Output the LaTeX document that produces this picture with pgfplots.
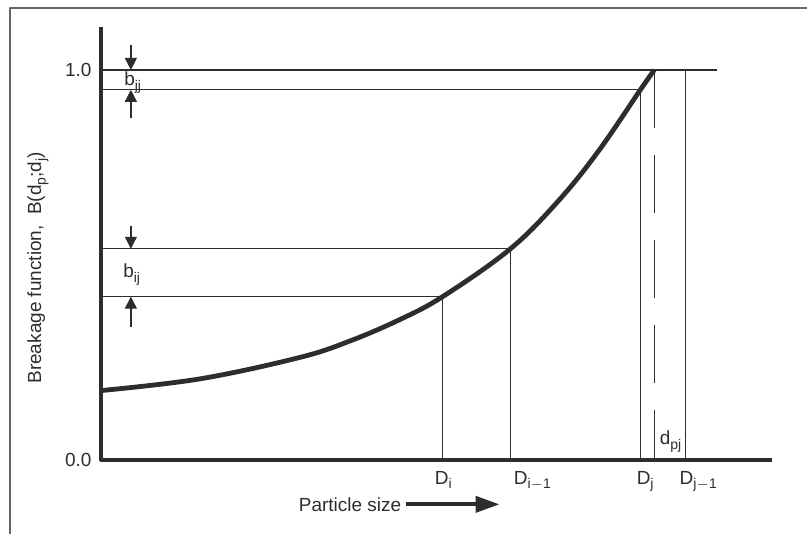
\documentclass[border=0pt]{standalone}
\usepackage{pgfplots}
\pgfplotsset{compat=1.18}
\usepackage{fontspec}
\setmainfont{Liberation Sans}
\usetikzlibrary{arrows.meta}
\definecolor{ink}{RGB}{45,45,45}
\newcommand{\sub}[1]{\raisebox{-0.45ex}{\fontsize{7}{8}\selectfont #1}}
\begin{document}
\fontsize{9.5}{11}\selectfont
\begin{tikzpicture}
\begin{axis}[
  scale only axis, width=404pt, height=267pt,
  xmin=-101, xmax=707, ymin=-0.18974, ymax=1.17949,
  axis lines=none, clip=false,
  every axis plot/.append style={ink, line join=round},
]
\path (rel axis cs:0,0) rectangle (rel axis cs:1,1);
% frame
\addplot[line width=0.8pt, color=gray!80!black] coordinates {(-91,-0.19) (-91,1.159) (707,1.159)};
% axis spines
\addplot[line width=2pt] coordinates {(0,1.110) (0,0) (672,0)};
% horizontal reference lines
\addplot[line width=0.65pt] coordinates {(0,1) (617,1)};
\addplot[line width=0.65pt] coordinates {(0,0.949) (540,0.949)};
\addplot[line width=0.65pt] coordinates {(0,0.541) (410,0.541)};
\addplot[line width=0.65pt] coordinates {(0,0.418) (342,0.418)};
% vertical lines
\addplot[line width=0.65pt] coordinates {(342,0) (342,0.418)};
\addplot[line width=0.65pt] coordinates {(410,0) (410,0.541)};
\addplot[line width=0.65pt] coordinates {(540,0) (540,0.949)};
\addplot[line width=0.65pt] coordinates {(585,0) (585,1)};
\addplot[line width=0.65pt, dash pattern=on 29pt off 13.5pt] coordinates {(554,1) (554,0)};
% breakage curve
\addplot[line width=2.4pt, smooth, tension=0.6] coordinates {
 (0,0.177) (99,0.207) (199,0.262) (250,0.305) (299,0.359) (342,0.418) (410,0.541)
 (459,0.667) (499,0.795) (540,0.949) (554,1.0)};
% dimension arrows
\draw[ink, line width=0.65pt, -{Triangle[length=6pt,width=6pt]}] (axis cs:30,1.064) -- (axis cs:30,1.0);
\draw[ink, line width=0.65pt, -{Triangle[length=6pt,width=6pt]}] (axis cs:30,0.877) -- (axis cs:30,0.949);
\draw[ink, line width=0.65pt, -{Triangle[length=6pt,width=6pt]}] (axis cs:30,0.600) -- (axis cs:30,0.541);
\draw[ink, line width=0.65pt, -{Triangle[length=6pt,width=6pt]}] (axis cs:30,0.341) -- (axis cs:30,0.418);
% labels
\node[ink, anchor=base west, inner sep=0] at (axis cs:23,0.959) {b\sub{jj}};
\node[ink, anchor=base west, inner sep=0] at (axis cs:22,0.467) {b\sub{ij}};
\node[ink, anchor=base west, inner sep=0] at (axis cs:559,0.0385) {d\sub{pj}};
\node[ink, anchor=east, inner sep=0] at (axis cs:-9,1) {1.0};
\node[ink, anchor=east, inner sep=0] at (axis cs:-9,0) {0.0};
\node[ink, anchor=base west, inner sep=0] at (axis cs:334,-0.064) {D\sub{i}};
\node[ink, anchor=base west, inner sep=0] at (axis cs:413,-0.064) {D\sub{i$-$1}};
\node[ink, anchor=base west, inner sep=0] at (axis cs:536,-0.064) {D\sub{j}};
\node[ink, anchor=base west, inner sep=0] at (axis cs:579,-0.064) {D\sub{j$-$1}};
\node[ink, rotate=90, inner sep=0] at (axis cs:-63,0.492) {Breakage function,\ \ B(d\sub{p};d\sub{j})};
\node[ink, anchor=east, inner sep=0] at (axis cs:301,-0.115) {Particle size};
\draw[ink, line width=2pt, -{Triangle[length=12pt,width=8pt]}] (axis cs:305,-0.115) -- (axis cs:399,-0.115);
\end{axis}
\end{tikzpicture}
\end{document}
